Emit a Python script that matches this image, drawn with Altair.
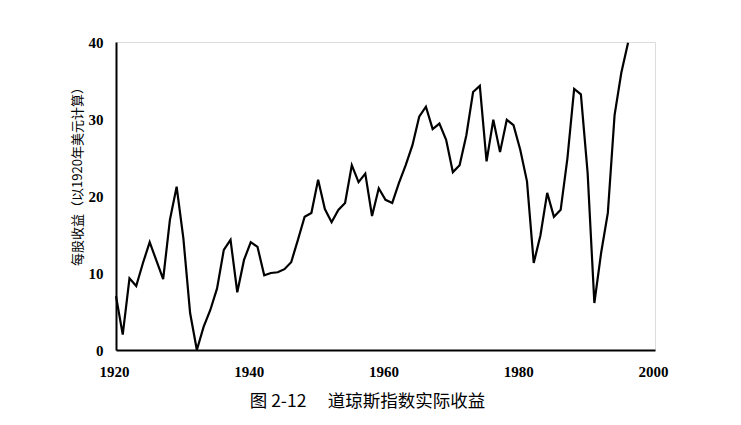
import altair as alt
import pandas as pd

years = list(range(1920, 1997))
earnings = [
    7.0, 2.0, 9.3, 8.3, 11.3, 14.0, 11.6, 9.2, 16.9, 21.2,
    14.5, 4.8, 0.0, 3.0, 5.2, 8.0, 13.0, 14.3, 7.5, 11.7,
    14.0, 13.4, 9.7, 10.0, 10.1, 10.5, 11.4, 14.3, 17.3, 17.8,
    22.1, 18.3, 16.6, 18.2, 19.1, 24.0, 21.8, 22.9, 17.4, 21.0,
    19.5, 19.1, 21.7, 24.0, 26.6, 30.3, 31.6, 28.7, 29.4, 27.3,
    23.1, 24.0, 27.9, 33.5, 34.3, 24.5, 29.9, 25.7, 29.9, 29.2,
    26.0, 21.9, 11.3, 14.9, 20.4, 17.3, 18.2, 24.9, 33.9, 33.2,
    23.0, 6.1, 12.6, 17.8, 30.5, 36.0, 39.9,
]
x_ticks = [1920, 1940, 1960, 1980, 2000]
y_ticks = [0, 10, 20, 30, 40]
y_title = "每股收益（以1920年美元计算）"
caption = "图 2-12\u3000 道琼斯指数实际收益"

df = pd.DataFrame({"year": years, "eps": earnings})

chart = alt.Chart(df).mark_line(color="black", strokeWidth=2.2, strokeJoin="miter").encode(
    x=alt.X("year:Q",
            scale=alt.Scale(domain=[1920, 2000], nice=False, zero=False),
            axis=alt.Axis(values=x_ticks, format="d", title=None, ticks=False,
                          grid=False, domainColor="black", domainWidth=2,
                          labelFlush=False, labelOffset=-2,
                          labelFont="Liberation Serif", labelFontWeight="bold",
                          labelFontSize=15, labelColor="black", labelPadding=14)),
    y=alt.Y("eps:Q",
            scale=alt.Scale(domain=[0, 40], nice=False),
            axis=alt.Axis(values=y_ticks, title=y_title, ticks=False, grid=False,
                          domainColor="black", domainWidth=2,
                          labelFont="Liberation Serif", labelFontWeight="bold",
                          labelFontSize=15, labelColor="black", labelPadding=13,
                          titleFont="Noto Sans CJK SC", titleFontSize=13,
                          titleFontWeight="normal", titleColor="black",
                          titleAngle=270, titleBaseline="middle",
                          titleX=-39, titleY=131)),
).properties(
    width=539,
    height=308,
    padding={"left": 108, "top": 34, "right": 78, "bottom": 67},
    autosize=alt.AutoSizeParams(type="none"),
    title=alt.TitleParams(caption, orient="bottom", anchor="middle",
                          font="Noto Sans CJK SC", fontSize=17.5,
                          fontWeight="normal", color="black", offset=14, dx=-18),
).configure_view(stroke=None).configure(background="white")

chart.save("out.html", embed_options={"renderer": "svg", "actions": False})
